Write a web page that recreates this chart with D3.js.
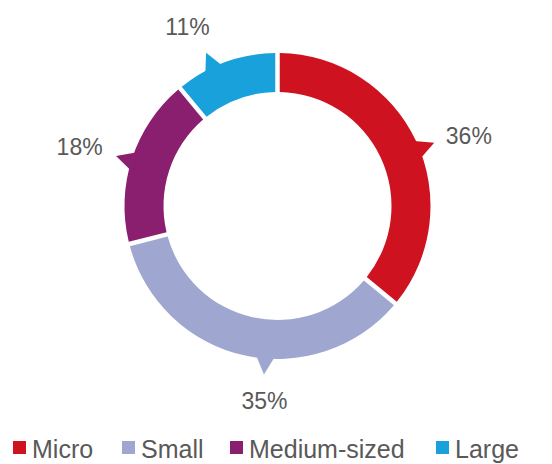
<!DOCTYPE html>
<html>
<head>
<meta charset="utf-8">
<script src="https://cdn.jsdelivr.net/npm/d3@7"></script>
<style>
  html, body { margin: 0; padding: 0; background: #ffffff; }
  svg { display: block; }
  text { font-family: "Liberation Sans", Arial, Helvetica, sans-serif; fill: #595959; }
</style>
</head>
<body>
<svg id="chart" width="552" height="464"></svg>
<script>
// Company size shares
const categories = ["Micro", "Small", "Medium-sized", "Large"];
const shares = [36, 35, 18, 11];
const valueLabels = ["36%", "35%", "18%", "11%"];
const colors = ["#cf1220", "#9fa7d0", "#8a1e6f", "#18a1db"];

// Callout pointer directions and label placement (degrees clockwise from 12 o'clock)
const calloutAngles = [68.0, 184.6, 287.2, 335.0];
const labelAngles = [69.7, 183.8, 286.6, 333.3];
const labelRadius = [204, 195.5, 206.5, 200.3];

const width = 552, height = 464;
const cx = 277.5, cy = 206;
const outerR = 153, innerR = 114;
const tipR = 169, baseHalf = 4.0 * Math.PI / 180;

const svg = d3.select("#chart");
const g = svg.append("g").attr("transform", `translate(${cx},${cy})`);

const pie = d3.pie().sort(null).value(d => d).startAngle(0).endAngle(2 * Math.PI);
const arcs = pie(shares);

const arc = d3.arc()
  .innerRadius(innerR)
  .outerRadius(outerR)
  .padAngle(4.5 / outerR)
  .padRadius(outerR);

const rad = a => a * Math.PI / 180;
const pt = (r, a) => [r * Math.sin(a), -r * Math.cos(a)];

// Ring segments
g.selectAll("path.slice")
  .data(arcs)
  .join("path")
  .attr("class", "slice")
  .attr("d", arc)
  .attr("fill", (d, i) => colors[i]);

// Callout pointers on the outer edge
g.selectAll("path.pointer")
  .data(arcs)
  .join("path")
  .attr("class", "pointer")
  .attr("fill", (d, i) => colors[i])
  .attr("d", (d, i) => {
    const a = rad(calloutAngles[i]);
    const p1 = pt(outerR - 4, a - baseHalf);
    const p2 = pt(tipR, a);
    const p3 = pt(outerR - 4, a + baseHalf);
    return d3.line()([p1, p2, p3]) + "Z";
  });

// Value labels
g.selectAll("text.value")
  .data(arcs)
  .join("text")
  .attr("class", "value")
  .attr("text-anchor", "middle")
  .attr("font-size", 23)
  .attr("x", (d, i) => pt(labelRadius[i], rad(labelAngles[i]))[0])
  .attr("y", (d, i) => pt(labelRadius[i], rad(labelAngles[i]))[1])
  .attr("dy", "0.36em")
  .text((d, i) => valueLabels[i]);

// Legend
const legendX = [13, 122, 230, 436];
const legend = svg.append("g").attr("transform", "translate(0,441)");
const item = legend.selectAll("g.item")
  .data(categories)
  .join("g")
  .attr("class", "item")
  .attr("transform", (d, i) => `translate(${legendX[i]},0)`);
item.append("rect")
  .attr("width", 13)
  .attr("height", 13)
  .attr("fill", (d, i) => colors[i]);
item.append("text")
  .attr("x", 19)
  .attr("y", 16.5)
  .attr("font-size", 25)
  .text(d => d);
</script>
</body>
</html>
